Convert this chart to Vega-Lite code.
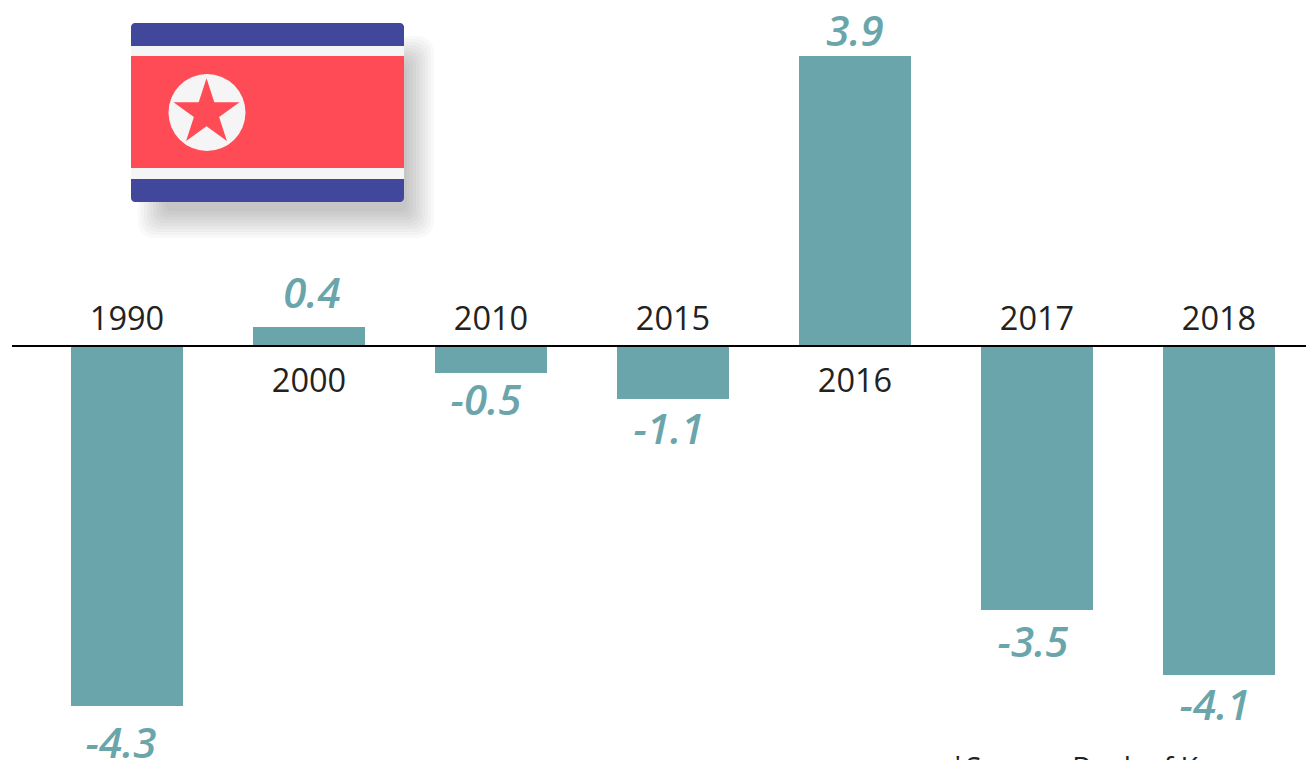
{
"$schema":"https://vega.github.io/schema/vega-lite/v6.json",
"autosize":{"type":"none"},
"width":1306,"height":760,"padding":0,"background":"white",
"config":{"view":{"stroke":null},"text":{"font":"Open Sans"}},
"data":{"values":[
{"year":"1990","value":-4.3,"drawn":-4.301},
{"year":"2000","value":0.4,"drawn":0.227},
{"year":"2010","value":-0.5,"drawn":-0.323},
{"year":"2015","value":-1.1,"drawn":-0.633},
{"year":"2016","value":3.9,"drawn":3.465},
{"year":"2017","value":-3.5,"drawn":-3.154},
{"year":"2018","value":-4.1,"drawn":-3.931}
]},
"encoding":{
"x":{"field":"year","type":"nominal","axis":null,"sort":null,"scale":{"paddingInner":0.3846,"paddingOuter":0.2802,"align":0.696}},
"y":{"field":"drawn","type":"quantitative","axis":null,"scale":{"domain":[-4.9462,4.1338],"nice":false,"zero":false}}
},
"layer":[
{"mark":{"type":"bar","color":"#6aa5ab"}},
{"mark":{"type":"rule","color":"#000000","strokeWidth":2,"x":12,"x2":1306},"data":{"values":[{"drawn":0}]},"encoding":{"x":null}},
{"transform":[{"filter":"datum.value < 0"}],"mark":{"type":"text","fontSize":32.5,"color":"#222222","dy":-26,"baseline":"middle"},"encoding":{"y":{"datum":0,"type":"quantitative"},"text":{"field":"year"}}},
{"transform":[{"filter":"datum.value > 0"}],"mark":{"type":"text","fontSize":32.5,"color":"#222222","dy":36,"baseline":"middle"},"encoding":{"y":{"datum":0,"type":"quantitative"},"text":{"field":"year"}}},
{"transform":[{"filter":"datum.value == 3.9"}],"mark":{"type":"text","fontSize":42,"fontStyle":"italic","fontWeight":600,"color":"#6aa5ab","dy":-23,"baseline":"middle"},"encoding":{"text":{"field":"value","type":"nominal"}}},
{"transform":[{"filter":"datum.value == 0.4"}],"mark":{"type":"text","fontSize":42,"fontStyle":"italic","fontWeight":600,"color":"#6aa5ab","dy":-32,"dx":3,"baseline":"middle"},"encoding":{"text":{"field":"value","type":"nominal"}}},
{"transform":[{"filter":"datum.value == -0.5"}],"mark":{"type":"text","fontSize":42,"fontStyle":"italic","fontWeight":600,"color":"#6aa5ab","dy":29,"dx":-5,"baseline":"middle"},"encoding":{"text":{"field":"value","type":"nominal"}}},
{"transform":[{"filter":"datum.value == -1.1 || datum.value == -4.1"}],"mark":{"type":"text","fontSize":42,"fontStyle":"italic","fontWeight":600,"color":"#6aa5ab","dy":32,"dx":-4,"baseline":"middle"},"encoding":{"text":{"field":"value","type":"nominal"}}},
{"transform":[{"filter":"datum.value == -3.5"}],"mark":{"type":"text","fontSize":42,"fontStyle":"italic","fontWeight":600,"color":"#6aa5ab","dy":34,"dx":-4,"baseline":"middle"},"encoding":{"text":{"field":"value","type":"nominal"}}},
{"transform":[{"filter":"datum.value == -4.3"}],"mark":{"type":"text","fontSize":42,"fontStyle":"italic","fontWeight":600,"color":"#6aa5ab","dy":39,"dx":-6,"baseline":"middle"},"encoding":{"text":{"field":"value","type":"nominal"}}},
{"mark":{"type":"text","fontSize":28.5,"color":"#222222","align":"left","baseline":"alphabetic"},"data":{"values":[{"source":"*Source: Bank of Korea"}]},"encoding":{"x":{"value":950},"y":{"value":778},"text":{"field":"source"}}},
{"mark":{"type":"rect","color":"#000000","opacity":0.022,"cornerRadius":16},"data":{"values":[{"part":"flag shadow"}]},"encoding":{"x":{"value":138},"x2":{"value":434},"y":{"value":36},"y2":{"value":238}}},
{"mark":{"type":"rect","color":"#000000","opacity":0.022,"cornerRadius":15},"data":{"values":[{"part":"flag shadow"}]},"encoding":{"x":{"value":141},"x2":{"value":431},"y":{"value":39},"y2":{"value":235}}},
{"mark":{"type":"rect","color":"#000000","opacity":0.022,"cornerRadius":14},"data":{"values":[{"part":"flag shadow"}]},"encoding":{"x":{"value":144},"x2":{"value":428},"y":{"value":42},"y2":{"value":232}}},
{"mark":{"type":"rect","color":"#000000","opacity":0.022,"cornerRadius":13},"data":{"values":[{"part":"flag shadow"}]},"encoding":{"x":{"value":147},"x2":{"value":425},"y":{"value":45},"y2":{"value":229}}},
{"mark":{"type":"rect","color":"#000000","opacity":0.022,"cornerRadius":12},"data":{"values":[{"part":"flag shadow"}]},"encoding":{"x":{"value":150},"x2":{"value":422},"y":{"value":48},"y2":{"value":226}}},
{"mark":{"type":"rect","color":"#000000","opacity":0.022,"cornerRadius":11},"data":{"values":[{"part":"flag shadow"}]},"encoding":{"x":{"value":153},"x2":{"value":419},"y":{"value":51},"y2":{"value":223}}},
{"mark":{"type":"rect","color":"#000000","opacity":0.022,"cornerRadius":10},"data":{"values":[{"part":"flag shadow"}]},"encoding":{"x":{"value":156},"x2":{"value":416},"y":{"value":54},"y2":{"value":220}}},
{"mark":{"type":"rect","color":"#000000","opacity":0.022,"cornerRadius":9},"data":{"values":[{"part":"flag shadow"}]},"encoding":{"x":{"value":159},"x2":{"value":413},"y":{"value":57},"y2":{"value":217}}},
{"mark":{"type":"rect","color":"#000000","opacity":0.022,"cornerRadius":8},"data":{"values":[{"part":"flag shadow"}]},"encoding":{"x":{"value":162},"x2":{"value":410},"y":{"value":60},"y2":{"value":214}}},
{"mark":{"type":"rect","color":"#000000","opacity":0.022,"cornerRadius":7},"data":{"values":[{"part":"flag shadow"}]},"encoding":{"x":{"value":165},"x2":{"value":407},"y":{"value":63},"y2":{"value":211}}},
{"mark":{"type":"rect","color":"#41479b","cornerRadius":4},"data":{"values":[{"part":"flag blue"}]},"encoding":{"x":{"value":131},"x2":{"value":404},"y":{"value":23},"y2":{"value":202}}},
{"mark":{"type":"rect","color":"#f5f5f5"},"data":{"values":[{"part":"flag white"}]},"encoding":{"x":{"value":131},"x2":{"value":404},"y":{"value":46},"y2":{"value":179}}},
{"mark":{"type":"rect","color":"#ff4b55"},"data":{"values":[{"part":"flag red"}]},"encoding":{"x":{"value":131},"x2":{"value":404},"y":{"value":56},"y2":{"value":168}}},
{"mark":{"type":"point","filled":true,"shape":"circle","size":5929,"color":"#f5f5f5","opacity":1},"data":{"values":[{"part":"flag disc"}]},"encoding":{"x":{"value":207},"y":{"value":112.5}}},
{"mark":{"type":"point","filled":true,"shape":"M0,-1L0.225,-0.309L0.951,-0.309L0.363,0.118L0.588,0.809L0,0.382L-0.588,0.809L-0.363,0.118L-0.951,-0.309L-0.225,-0.309Z","size":4816,"color":"#ff4b55","opacity":1},"data":{"values":[{"part":"flag star"}]},"encoding":{"x":{"value":206.5},"y":{"value":113}}}
]
}
